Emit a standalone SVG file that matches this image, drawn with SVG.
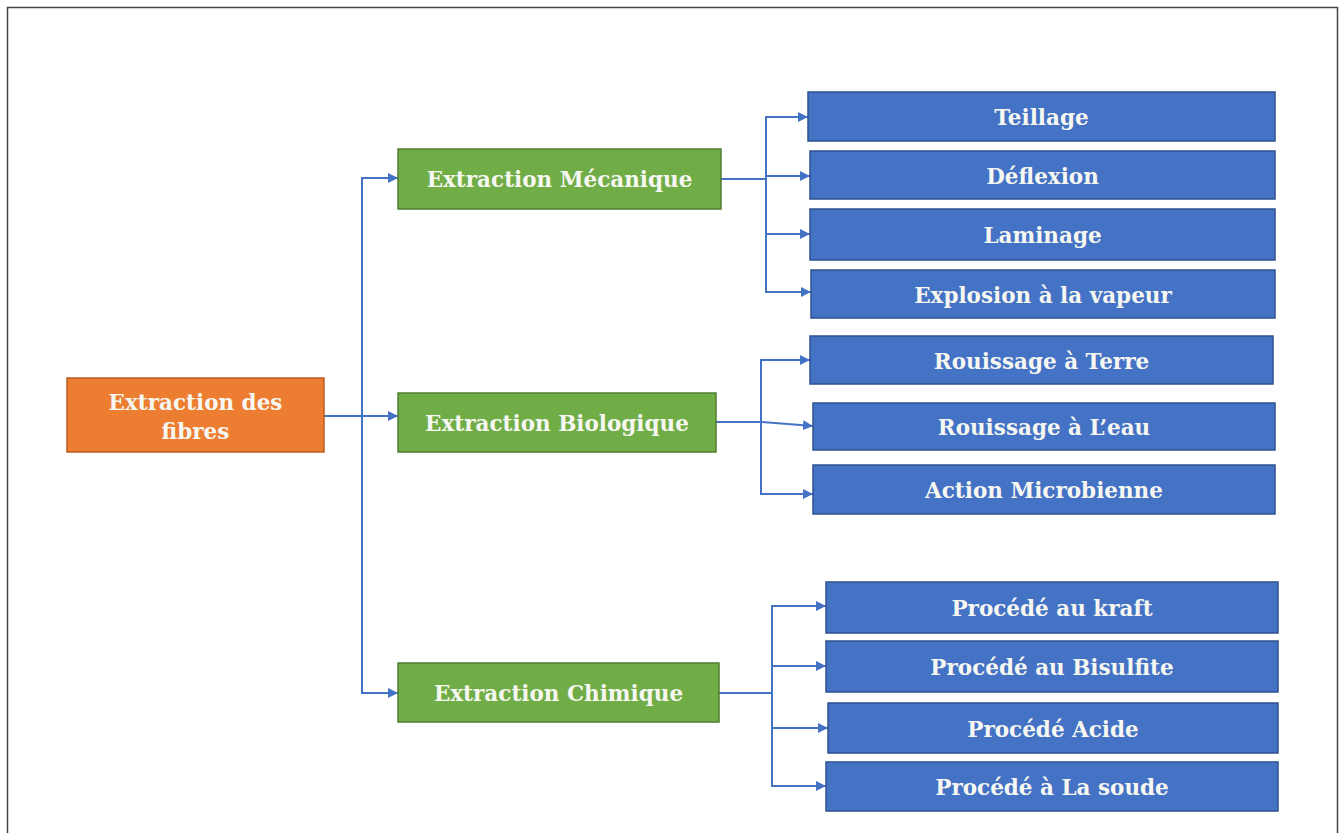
<svg xmlns="http://www.w3.org/2000/svg" width="1343" height="833" viewBox="0 0 1343 833">
  <defs>
    <marker id="arrow" viewBox="0 0 10 10" refX="10" refY="5" markerWidth="5" markerHeight="5" orient="auto" markerUnits="strokeWidth">
      <path d="M0,0 L10,5 L0,10 z" fill="#4472C4"/>
    </marker>
    <style>
      .root { fill: #ED7D31; stroke: #B95E22; stroke-width: 1.5; }
      .cat { fill: #70AD47; stroke: #507E32; stroke-width: 1.5; }
      .leaf { fill: #4472C4; stroke: #2F528F; stroke-width: 1.5; }
      .lbl { font-family: "DejaVu Serif", "Liberation Serif", serif; font-weight: bold; font-size: 21.5px; fill: #F7F7F2; text-anchor: middle; }
      .wire { fill: none; stroke: #4472C4; stroke-width: 2; }
      .arr { fill: none; stroke: #4472C4; stroke-width: 2; marker-end: url(#arrow); }
      .frame { fill: none; stroke: #444444; stroke-width: 1.5; }
    </style>
  </defs>

  <rect width="1343" height="833" fill="#FFFFFF"/>
  <!-- outer frame, open at the bottom -->
  <path class="frame" d="M7.5,833 V7.5 H1337.5 V833"/>

  <!-- connectors -->
  <g id="connectors">
    <!-- root to categories -->
    <line class="arr" x1="324" y1="416" x2="398" y2="416"/>
    <line class="wire" x1="362" y1="178" x2="362" y2="693"/>
    <line class="arr" x1="361" y1="178" x2="398" y2="178"/>
    <line class="arr" x1="361" y1="693" x2="398" y2="693"/>

    <!-- mechanical branch -->
    <line class="wire" x1="721" y1="179" x2="766" y2="179"/>
    <line class="wire" x1="766" y1="117" x2="766" y2="292"/>
    <line class="arr" x1="765" y1="117" x2="808" y2="117"/>
    <line class="arr" x1="765" y1="176" x2="810" y2="176"/>
    <line class="arr" x1="765" y1="234" x2="810" y2="234"/>
    <line class="arr" x1="765" y1="292" x2="811" y2="292"/>

    <!-- biological branch -->
    <line class="wire" x1="716" y1="422" x2="761" y2="422"/>
    <line class="wire" x1="761" y1="360" x2="761" y2="494"/>
    <line class="arr" x1="760" y1="360" x2="810" y2="360"/>
    <line class="arr" x1="761" y1="422" x2="813" y2="426"/>
    <line class="arr" x1="760" y1="494" x2="813" y2="494"/>

    <!-- chemical branch -->
    <line class="wire" x1="719" y1="693" x2="772" y2="693"/>
    <line class="wire" x1="772" y1="606" x2="772" y2="786"/>
    <line class="arr" x1="771" y1="606" x2="826" y2="606"/>
    <line class="arr" x1="771" y1="666" x2="826" y2="666"/>
    <line class="arr" x1="771" y1="728" x2="828" y2="728"/>
    <line class="arr" x1="771" y1="786" x2="826" y2="786"/>
  </g>

  <!-- root -->
  <g id="node-root">
    <rect class="root" x="67" y="378" width="257" height="74"/>
    <text class="lbl" x="195.5" y="410">Extraction des</text>
    <text class="lbl" x="195.5" y="439">fibres</text>
  </g>

  <!-- categories -->
  <g id="node-mecanique">
    <rect class="cat" x="398" y="149" width="323" height="60"/>
    <text class="lbl" x="559.5" y="187">Extraction Mécanique</text>
  </g>
  <g id="node-biologique">
    <rect class="cat" x="398" y="393" width="318" height="59"/>
    <text class="lbl" x="557" y="430.5">Extraction Biologique</text>
  </g>
  <g id="node-chimique">
    <rect class="cat" x="398" y="663" width="321" height="59"/>
    <text class="lbl" x="558.5" y="700.5">Extraction Chimique</text>
  </g>

  <!-- mechanical methods -->
  <g id="node-teillage">
    <rect class="leaf" x="808" y="92" width="467" height="49"/>
    <text class="lbl" x="1041.5" y="125">Teillage</text>
  </g>
  <g id="node-deflexion">
    <rect class="leaf" x="810" y="151" width="465" height="48"/>
    <text class="lbl" x="1042.5" y="183.5">Déflexion</text>
  </g>
  <g id="node-laminage">
    <rect class="leaf" x="810" y="209" width="465" height="51"/>
    <text class="lbl" x="1042.5" y="243">Laminage</text>
  </g>
  <g id="node-explosion">
    <rect class="leaf" x="811" y="270" width="464" height="48"/>
    <text class="lbl" x="1043" y="302.5">Explosion à la vapeur</text>
  </g>

  <!-- biological methods -->
  <g id="node-terre">
    <rect class="leaf" x="810" y="336" width="463" height="48"/>
    <text class="lbl" x="1041.5" y="368.5">Rouissage à Terre</text>
  </g>
  <g id="node-eau">
    <rect class="leaf" x="813" y="403" width="462" height="47"/>
    <text class="lbl" x="1044" y="435">Rouissage à L’eau</text>
  </g>
  <g id="node-microbienne">
    <rect class="leaf" x="813" y="465" width="462" height="49"/>
    <text class="lbl" x="1044" y="498">Action Microbienne</text>
  </g>

  <!-- chemical methods -->
  <g id="node-kraft">
    <rect class="leaf" x="826" y="582" width="452" height="51"/>
    <text class="lbl" x="1052" y="616">Procédé au kraft</text>
  </g>
  <g id="node-bisulfite">
    <rect class="leaf" x="826" y="641" width="452" height="51"/>
    <text class="lbl" x="1052" y="675">Procédé au Bisulfite</text>
  </g>
  <g id="node-acide">
    <rect class="leaf" x="828" y="703" width="450" height="50"/>
    <text class="lbl" x="1053" y="736.5">Procédé Acide</text>
  </g>
  <g id="node-soude">
    <rect class="leaf" x="826" y="762" width="452" height="49"/>
    <text class="lbl" x="1052" y="795">Procédé à La soude</text>
  </g>
</svg>
